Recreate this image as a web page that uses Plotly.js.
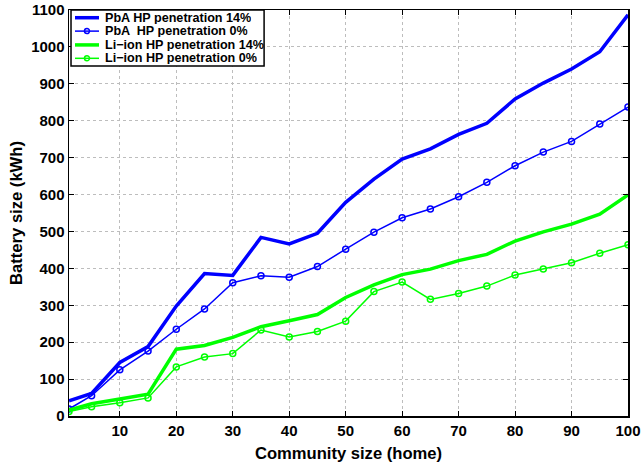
<!DOCTYPE html>
<html><head><meta charset="utf-8">
<script src="https://cdn.plot.ly/plotly-3.0.1.min.js"></script>
<style>html,body{margin:0;padding:0;background:#fff;}#chart{width:644px;height:469px;}</style>
</head><body><div id="chart"></div>
<script>
const communitySize = [1,5,10,15,20,25,30,35,40,45,50,55,60,65,70,75,80,85,90,95,100];
const pbaHP14 = [41,61,145,188,298,386,381,484,466,495,579,642,696,724,763,793,859,902,940,987,1087];
const pbaHP0 = [19,55,125,176,235,290,361,380,376,405,452,498,537,561,594,633,678,715,744,791,837];
const liionHP14 = [16,33,46,59,181,191,213,242,258,275,321,355,383,398,421,438,474,499,520,547,599];
const liionHP0 = [12,25,36,49,133,160,169,233,214,229,257,337,363,316,332,352,382,398,415,441,464];
const seriesNames = ["PbA HP penetration 14%","PbA  HP penetration 0%","Li\u2212ion HP penetration 14%","Li\u2212ion HP penetration 0%"];
const xTicks = [10,20,30,40,50,60,70,80,90,100];
const yTicks = [0,100,200,300,400,500,600,700,800,900,1000,1100];

const FONT = "Liberation Sans, Arial, Helvetica, sans-serif";
const BLUE = "#0000ff", GREEN = "#00ff00";
const styles = [
  {color: BLUE, width: 3.5, markers: false},
  {color: BLUE, width: 1.5, markers: true},
  {color: GREEN, width: 3.5, markers: false},
  {color: GREEN, width: 1.5, markers: true}
];
const seriesData = [pbaHP14, pbaHP0, liionHP14, liionHP0];

const traces = seriesData.map((ys, i) => ({
  x: communitySize, y: ys, name: seriesNames[i],
  mode: styles[i].markers ? "lines+markers" : "lines",
  line: {color: styles[i].color, width: styles[i].width},
  marker: {symbol: "circle-open", size: 6, color: styles[i].color, line: {width: 1.5}},
  showlegend: false
}));

const axisCommon = {
  showline: true, linecolor: "#000", linewidth: 1.5, mirror: "ticks",
  ticks: "inside", ticklen: 5, tickcolor: "#000", tickwidth: 1,
  showgrid: true, gridcolor: "#bdbdbd", griddash: "dot", gridwidth: 1,
  zeroline: false,
  tickfont: {family: FONT, size: 15, color: "#000", weight: "bold"}
};

// Custom legend (compact, like the original) in paper coordinates
const lg = {x0: 0.0036, x1: 0.349, y0: 0.862, y1: 1.0,
  rows: [0.981, 0.948, 0.914, 0.881], lineX0: 0.0107, lineX1: 0.0537, textX: 0.0626};
const shapes = [{type: "rect", xref: "paper", yref: "paper", x0: lg.x0, x1: lg.x1, y0: lg.y0, y1: lg.y1,
  fillcolor: "#fff", line: {color: "#000", width: 1.5}, layer: "above"}];
const annotations = [];
styles.forEach((s, i) => {
  shapes.push({type: "line", xref: "paper", yref: "paper", x0: lg.lineX0, x1: lg.lineX1, y0: lg.rows[i], y1: lg.rows[i],
    line: {color: s.color, width: s.width}, layer: "above"});
  if (s.markers) {
    shapes.push({type: "circle", xref: "paper", yref: "paper", xsizemode: "pixel", ysizemode: "pixel",
      xanchor: (lg.lineX0 + lg.lineX1) / 2, yanchor: lg.rows[i], x0: -2.5, x1: 2.5, y0: -2.5, y1: 2.5,
      fillcolor: "rgba(0,0,0,0)", line: {color: s.color, width: 1.5}, layer: "above"});
  }
  annotations.push({xref: "paper", yref: "paper", x: lg.textX, y: lg.rows[i], xanchor: "left", yanchor: "middle",
    showarrow: false, text: seriesNames[i], borderpad: 0, height: 12,
    font: {family: FONT, size: 12.6, color: "#000", weight: "bold"}});
});

const layout = {
  width: 644, height: 469,
  margin: {l: 69, r: 16, t: 10, b: 53},
  paper_bgcolor: "#fff", plot_bgcolor: "#fff",
  showlegend: false,
  shapes: shapes, annotations: annotations,
  xaxis: Object.assign({}, axisCommon, {
    range: [1, 100], tickvals: xTicks, ticktext: xTicks.map(String),
    title: {text: "Community size (home)", font: {family: FONT, size: 16.6, color: "#000", weight: "bold"}, standoff: 10}
  }),
  yaxis: Object.assign({}, axisCommon, {
    range: [0, 1100], tickvals: yTicks, ticktext: yTicks.map(String),
    title: {text: "Battery size (kWh)", font: {family: FONT, size: 16.6, color: "#000", weight: "bold"}, standoff: 4}
  })
};
Plotly.newPlot("chart", traces, layout, {staticPlot: true, displayModeBar: false});
</script></body></html>
